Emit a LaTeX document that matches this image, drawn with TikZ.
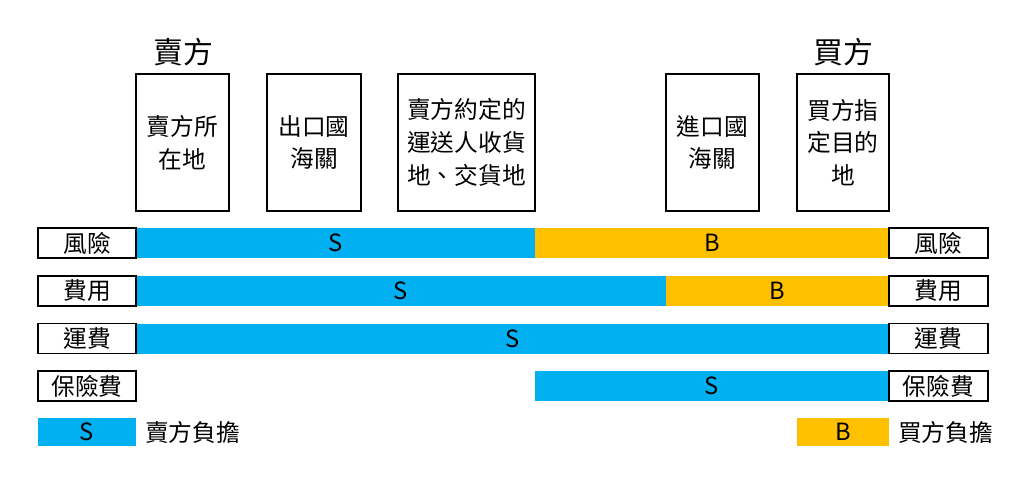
\documentclass[tikz,border=0pt]{standalone}
\usepackage{fontspec}
\setmainfont{Noto Sans CJK TC}
\usepackage{xcolor}
\definecolor{sellerblue}{HTML}{00B0F0}
\definecolor{buyerorange}{HTML}{FFC000}
\usepackage{tikz}
\tikzset{
  place/.style={draw, line width=1pt, inner sep=0pt, minimum height=2.74cm, align=center,
    font=\fontsize{13.5}{18.7}\selectfont},
  rowlabel/.style={draw, line width=1pt, inner sep=0pt, minimum width=1.97cm, minimum height=0.6cm,
    font=\fontsize{13.5}{16}\selectfont},
  sbar/.style={fill=sellerblue, inner sep=0pt, minimum height=0.6cm, font=\fontsize{13.5}{16}\selectfont},
  bbar/.style={fill=buyerorange, inner sep=0pt, minimum height=0.6cm, font=\fontsize{13.5}{16}\selectfont},
}

\begin{document}
\begin{tikzpicture}[x=0.02cm, y=-0.02cm]
  \useasboundingbox (0,0) rectangle (1024,488);
  % parties
  \node[font=\fontsize{17}{20}\selectfont] (sellerT) at (183,52) {賣方};
  \node[font=\fontsize{17}{20}\selectfont] (buyerT) at (843,52) {買方};
  % places along the route
  \node[place, minimum width=1.86cm] (seller) at (182.5,142.5) {賣方所\\在地};
  \node[place, minimum width=1.88cm] (export) at (314,142.5) {出口國\\海關};
  \node[place, minimum width=2.74cm] (carrier) at (466.5,142.5) {賣方約定的\\運送人收貨\\地、交貨地};
  \node[place, minimum width=1.86cm] (import) at (712.5,142.5) {進口國\\海關};
  \node[place, minimum width=1.84cm] (dest) at (843,142.5) {買方指\\定目的\\地};
  % bars
  \node[sbar, minimum width=7.98cm] (riskS) at (335.5,243) {S};
  \node[bbar, minimum width=7.08cm] (riskB) at (712,243) {B};
  \node[sbar, minimum width=10.6cm] (costS) at (401,291) {S};
  \node[bbar, minimum width=4.46cm] (costB) at (777.5,291) {B};
  \node[sbar, minimum width=15.06cm] (freightS) at (512.5,338.5) {S};
  \node[sbar, minimum width=7.08cm] (insS) at (712,386) {S};
  % row labels
  \foreach \y/\name/\txt in {243/risk/風險, 291/cost/費用, 338.5/freight/運費, 386/ins/保險費} {
    \node[rowlabel] (\name L) at (87,\y) {\txt};
    \node[rowlabel] (\name R) at (938.5,\y) {\txt};
  }
  % legend
  \node[sbar, minimum width=1.96cm, minimum height=0.56cm] (keyS) at (87,432) {S};
  \node[anchor=west, font=\fontsize{13.5}{16}\selectfont] (keySt) at (139,432) {賣方負擔};
  \node[bbar, minimum width=1.84cm, minimum height=0.56cm] (keyB) at (843,432) {B};
  \node[anchor=west, font=\fontsize{13.5}{16}\selectfont] (keyBt) at (892,432) {買方負擔};
\end{tikzpicture}
\end{document}
